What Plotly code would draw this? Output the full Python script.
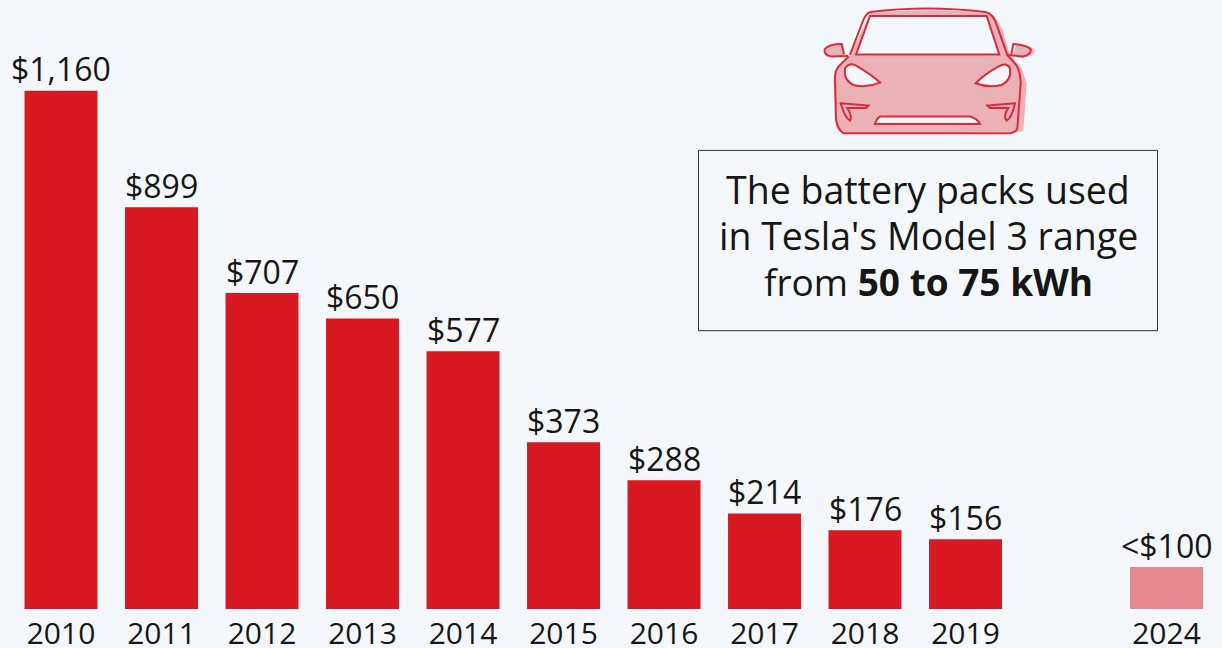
import plotly.graph_objects as go

years = ["2010", "2011", "2012", "2013", "2014", "2015", "2016", "2017", "2018", "2019"]
prices = [1160, 899, 707, 650, 577, 373, 288, 214, 176, 156]
price_labels = ["$1,160", "$899", "$707", "$650", "$577", "$373", "$288", "$214", "$176", "$156"]
forecast_year = ["2024"]
forecast_price = [94]
forecast_label = ["<$100"]
axis_order = years + [" "] + forecast_year
note_lines = ["The battery packs used", "in Tesla's Model 3 range", "from <b>50 to 75 kWh</b>"]

W, H = 1222, 648
BASE = 609.5
BG = "#f4f8fc"
RED = "#d81922"
PALE = "#e58890"
INK = "#161616"
FONT = "Open Sans"


def px(x):
    return x / W


def py(y):
    return (BASE - y) / BASE


def car_path(cmds):
    """Icon path given in 3x crop coordinates relative to (800, 0)."""
    out = []
    for tok in cmds:
        if isinstance(tok, str):
            out.append(tok)
        else:
            out.append(f"{px(800 + tok[0] / 3):.5f},{py(tok[1] / 3):.5f}")
    return " ".join(out)


CAR_FILL = "#ecb1b7"
CAR_LINE = "#de2a38"

body_fill = ["M", (212, 40), "Q", (380, 22), (565, 40), "Q", (595, 50), (610, 100), "L", (630, 165),
             "L", (665, 205), "L", (680, 250), "L", (670, 395), "L", (130, 403),
             "L", (108, 385), "L", (100, 240), "L", (115, 200), "L", (150, 165), "Z"]
mirror_fill_l = ["M", (145, 168), "L", (95, 170), "Q", (70, 165), (74, 148), "Q", (85, 132), (125, 132), "L", (132, 163), "Z"]
mirror_fill_r = ["M", (628, 166), "L", (680, 172), "Q", (708, 164), (702, 148), "Q", (690, 135), (648, 132), "L", (640, 163), "Z"]
windshield = ["M", (168, 164), "L", (210, 48), "L", (560, 48), "L", (598, 164), "Z"]
head_l = ["M", (135, 205), "Q", (150, 185), (170, 198), "Q", (215, 225), (240, 248), "Q", (200, 265), (160, 255), "Q", (130, 240), (135, 205), "Z"]
head_r = ["M", (630, 205), "Q", (620, 185), (595, 200), "Q", (550, 225), (527, 250), "Q", (565, 265), (605, 255), "Q", (635, 240), (630, 205), "Z"]
grille = ["M", (240, 350), "L", (510, 350), "Q", (530, 355), (540, 372), "L", (225, 372), "Q", (230, 355), (240, 350), "Z"]
outer = ["M", (150, 165), "L", (190, 60), "Q", (198, 40), (212, 36), "Q", (380, 15), (556, 36), "Q", (580, 40), (592, 80), "L", (622, 165),
         "L", (650, 197), "Q", (662, 220), (662, 250), "L", (652, 385), "Q", (648, 398), (630, 400), "L", (130, 400),
         "Q", (115, 390), (108, 360), "L", (105, 230), "Q", (105, 210), (120, 195), "L", (146, 170)]
mirror_l = ["M", (145, 168), "L", (95, 170), "Q", (70, 165), (74, 148), "Q", (85, 132), (125, 132), "L", (132, 163)]
mirror_r = ["M", (620, 165), "L", (670, 170), "Q", (695, 162), (692, 148), "Q", (680, 135), (640, 132), "L", (634, 163)]
lamp_l = ["M", (122, 310), "L", (205, 317), "L", (198, 324), "L", (142, 324), "Q", (158, 350), (150, 362), "Q", (135, 355), (122, 310), "Z"]
lamp_r = ["M", (645, 310), "L", (562, 317), "L", (570, 324), "L", (625, 324), "Q", (608, 350), (620, 362), "Q", (635, 355), (645, 310), "Z"]

shapes = [
    dict(type="rect", xref="paper", yref="paper", x0=px(698.5), x1=px(1157.5), y0=py(150.5), y1=py(331),
         line=dict(color="#333333", width=1), fillcolor="rgba(0,0,0,0)"),
]
for p in (body_fill, mirror_fill_l, mirror_fill_r):
    shapes.append(dict(type="path", xref="paper", yref="paper", path=car_path(p), fillcolor=CAR_FILL, line=dict(width=0)))
for p in (windshield, head_l, head_r, grille):
    shapes.append(dict(type="path", xref="paper", yref="paper", path=car_path(p), fillcolor=BG,
                       line=dict(color=CAR_LINE, width=2)))
for p in (outer, mirror_l, mirror_r, lamp_l, lamp_r):
    shapes.append(dict(type="path", xref="paper", yref="paper", path=car_path(p), fillcolor="rgba(0,0,0,0)",
                       line=dict(color=CAR_LINE, width=2)))

label_font = dict(family=FONT, size=32, color=INK)
fig = go.Figure()
fig.add_bar(x=years, y=prices, marker=dict(color=RED, line=dict(width=0)), width=0.726)
fig.add_bar(x=forecast_year, y=forecast_price, marker=dict(color=PALE, line=dict(width=0)), width=0.726)

annotations = [dict(xref="paper", yref="paper", x=px(928), y=py(yc), text=line, showarrow=False,
                    align="center", xanchor="center", yanchor="middle",
                    font=dict(family=FONT, size=fs, color=INK))
               for line, yc, fs in zip(note_lines, (190, 236, 282), (37.5, 37.5, 37))]
for xs, ys, ts in ((years, prices, price_labels), (forecast_year, forecast_price, forecast_label)):
    for x, y, t in zip(xs, ys, ts):
        annotations.append(dict(x=axis_order.index(x), y=y, xref="x", yref="y", text=t, showarrow=False,
                                xanchor="center", yanchor="bottom", yshift=-1.5, font=label_font))

fig.update_layout(
    width=W, height=H, autosize=False,
    margin=dict(l=0, r=0, t=0, b=H - BASE, pad=0, autoexpand=False),
    paper_bgcolor=BG, plot_bgcolor=BG,
    showlegend=False, barmode="overlay",
    font=dict(family=FONT, color=INK),
    shapes=shapes,
    xaxis=dict(type="category", categoryorder="array", categoryarray=axis_order, automargin=False,
               tickmode="array", tickvals=axis_order, ticktext=axis_order,
               range=[-0.607, 11.552], showgrid=False, zeroline=False, showline=False, ticks="",
               tickfont=dict(family=FONT, size=30, color=INK), ticklabelstandoff=4),
    yaxis=dict(range=[0, 1363], visible=False, showgrid=False, zeroline=False, automargin=False),
    annotations=annotations,
)

fig.write_html("out.html", config=dict(displayModeBar=False),
               post_script="document.body.style.margin='0';document.body.style.background='" + BG + "';")
